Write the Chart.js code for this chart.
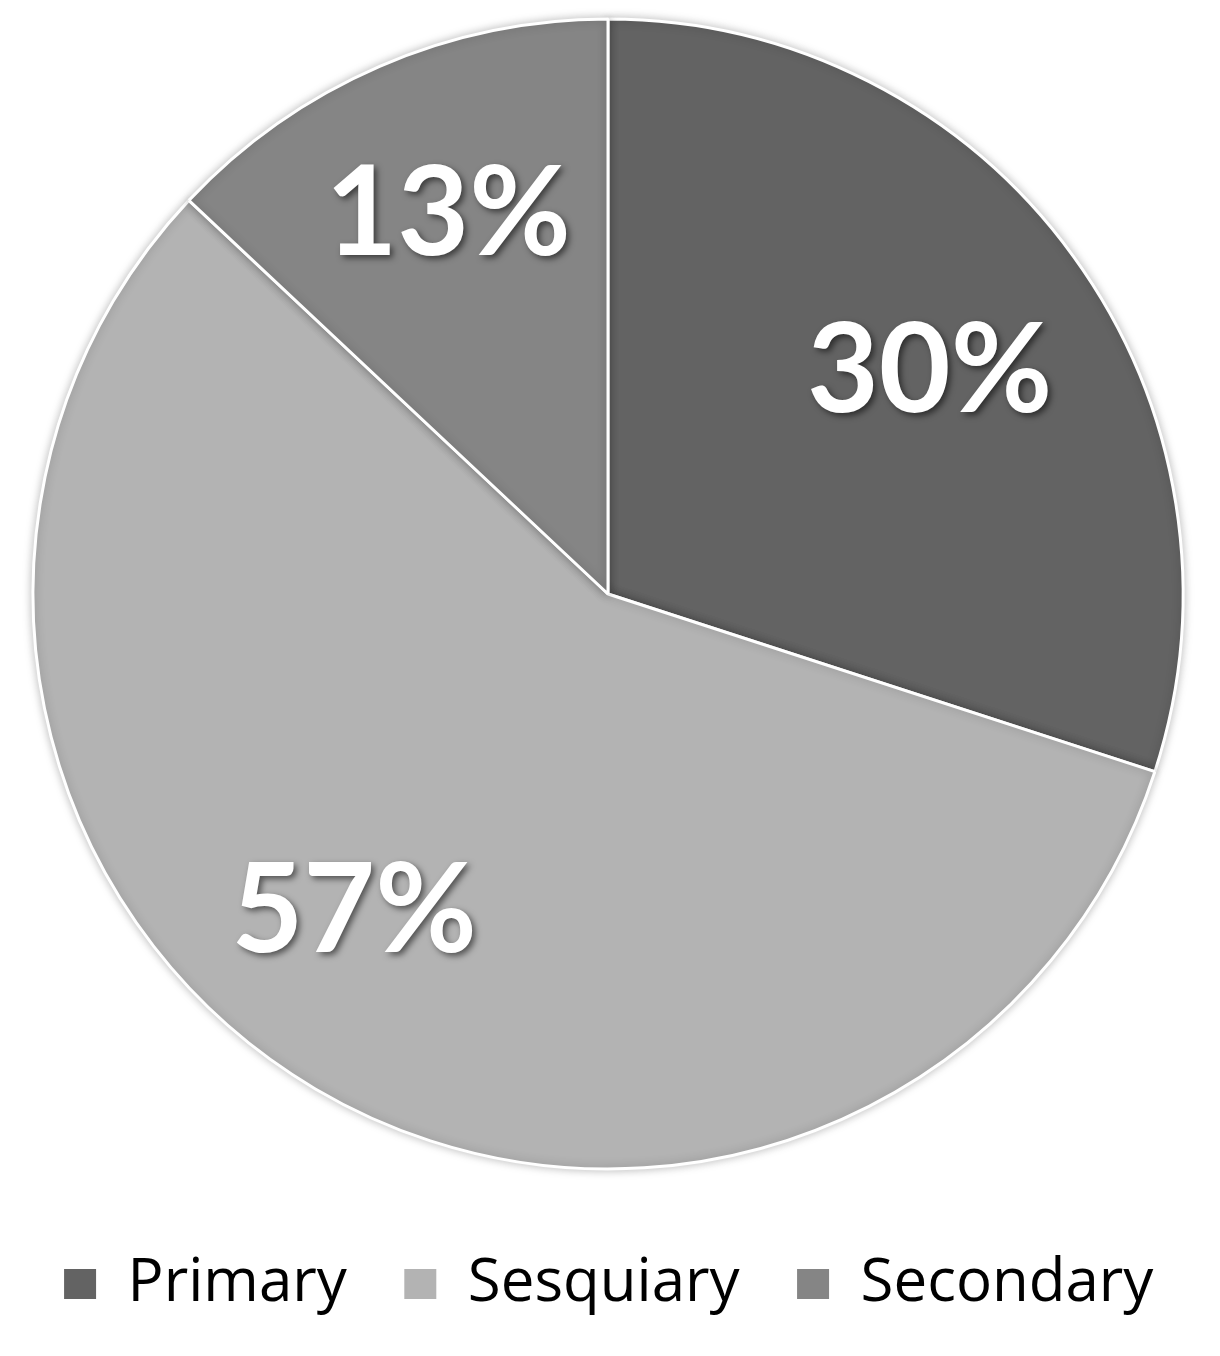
<!DOCTYPE html>
<html lang="en">
<head>
    <meta charset="UTF-8">
    <title>Pie Chart</title>
    <script src="https://cdn.jsdelivr.net/npm/chart.js"></script>
    <style>
        html, body { margin: 0; padding: 0; background: #fff; }
        #wrap { width: 1220px; height: 1356px; }
    </style>
</head>
<body>
<div id="wrap"><canvas id="pieChart"></canvas></div>
<script>
    // data
    const categories = ['Primary', 'Sesquiary', 'Secondary'];
    const shares = [30, 57, 13];
    const sliceColors = ['#636363', '#b3b3b3', '#858585'];
    const labelNudge = [[-4, 15], [-49, -28], [0, -10]]; // px, label fine tuning

    // white bold labels with a soft shadow
    const pctLabels = {
        id: 'pctLabels',
        afterDatasetsDraw(chart) {
            const ctx = chart.ctx;
            const meta = chart.getDatasetMeta(0);
            ctx.save();
            ctx.font = 'bold 124px Lato, "Open Sans", sans-serif';
            ctx.textAlign = 'center';
            ctx.textBaseline = 'middle';
            ctx.fillStyle = '#ffffff';
            ctx.shadowColor = 'rgba(0,0,0,0.55)';
            ctx.shadowBlur = 6;
            ctx.shadowOffsetX = 3;
            ctx.shadowOffsetY = 3;
            meta.data.forEach((arc, i) => {
                const mid = (arc.startAngle + arc.endAngle) / 2;
                const r = arc.outerRadius * 0.7;
                const x = arc.x + Math.cos(mid) * r + labelNudge[i][0];
                const y = arc.y + Math.sin(mid) * r + labelNudge[i][1];
                ctx.fillText(shares[i] + '%', x, y);
            });
            ctx.restore();
        }
    };

    // faint shadow round the pie
    const pieShadow = {
        id: 'pieShadow',
        beforeDatasetsDraw(chart) {
            chart.ctx.save();
            chart.ctx.shadowColor = 'rgba(0,0,0,0.25)';
            chart.ctx.shadowBlur = 10;
        },
        afterDatasetsDraw(chart) {
            chart.ctx.restore();
        }
    };

    new Chart(document.getElementById('pieChart'), {
        type: 'pie',
        data: {
            labels: categories,
            datasets: [{
                data: shares,
                backgroundColor: sliceColors,
                borderColor: '#ffffff',
                borderWidth: 3,
                radius: 575
            }]
        },
        options: {
            responsive: true,
            maintainAspectRatio: false,
            animation: false,
            layout: { padding: { top: 0, left: 0, right: 4, bottom: 32 } },
            plugins: {
                legend: {
                    position: 'bottom',
                    title: { display: true, text: '', padding: 0, font: { size: 10, lineHeight: 1 } },
                    labels: {
                        boxWidth: 35,
                        boxHeight: 33,
                        padding: 56,
                        color: '#000',
                        font: { family: '"Open Sans", sans-serif', size: 60 }
                    }
                },
                tooltip: { enabled: false }
            }
        },
        plugins: [pieShadow, pctLabels]
    });
</script>
</body>
</html>
